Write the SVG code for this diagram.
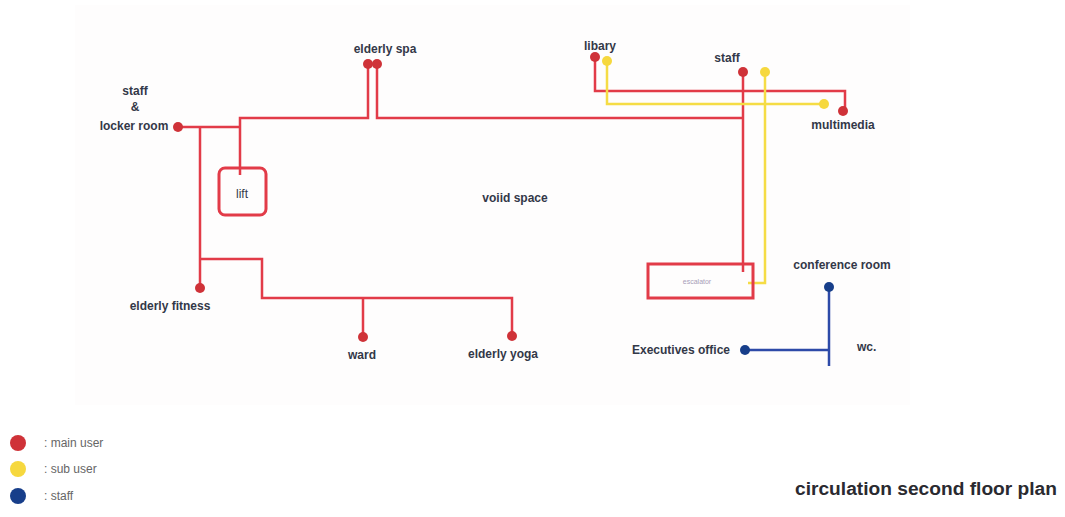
<svg xmlns="http://www.w3.org/2000/svg" width="1065" height="517" viewBox="0 0 1065 517">
<style>
text{font-family:"Liberation Sans",Arial,sans-serif;fill:#333848;}
.lbl{font-size:12px;font-weight:bold;}
.r{stroke:#e23b48;stroke-width:2.5;fill:none;}
.y{stroke:#f5dc45;stroke-width:2.5;fill:none;}
.b{stroke:#2d4aa8;stroke-width:2.5;fill:none;}
.rd{fill:#cf3238;}
.yd{fill:#f6d83e;}
.bd{fill:#173e8a;}
.leg{font-size:12px;fill:#666;}
</style>
<rect x="0" y="0" width="1065" height="517" fill="#ffffff"/>
<rect x="75" y="5" width="835" height="400" fill="#fefdfd"/>
<g id="connectors">
  <polyline class="r" points="178,127 240,127"/>
  <polyline class="r" points="200,127 200,288"/>
  <polyline class="r" points="240,175 240,118 368,118 368,64"/>
  <polyline class="r" points="377,64 377,118 743,118"/>
  <polyline class="r" points="200,259 262,259 262,298 512,298 512,336"/>
  <polyline class="r" points="363,298 363,337"/>
  <polyline class="r" points="595,57 595,91 845,91 845,110"/>
  <polyline class="r" points="743,72 743,272"/>
  <polyline class="y" points="607,61 607,104 824,104"/>
  <polyline class="y" points="765,72 765,283 748,283"/>
  <polyline class="b" points="829,287 829,366"/>
  <polyline class="b" points="745,350 829,350"/>
</g>
<g id="node-staff-locker">
  <circle class="rd" cx="178" cy="127" r="5"/>
  <text class="lbl" x="135" y="95" text-anchor="middle">staff</text>
  <text class="lbl" x="135" y="111" text-anchor="middle">&amp;</text>
  <text class="lbl" x="134" y="130" text-anchor="middle">locker room</text>
</g>
<g id="node-lift">
  <rect x="219" y="168" width="47" height="47" rx="6" fill="none" stroke="#e23b48" stroke-width="3"/>
  <text class="lbl" x="242" y="198" text-anchor="middle" style="font-weight:normal">lift</text>
</g>
<g id="node-elderly-spa">
  <circle class="rd" cx="368" cy="64" r="5"/>
  <circle class="rd" cx="377" cy="64" r="5"/>
  <text class="lbl" x="385" y="53" text-anchor="middle">elderly spa</text>
</g>
<g id="node-libary">
  <circle class="rd" cx="595" cy="57" r="5"/>
  <circle class="yd" cx="607" cy="61" r="5"/>
  <text class="lbl" x="600" y="50" text-anchor="middle">libary</text>
</g>
<g id="node-staff">
  <circle class="rd" cx="743" cy="72" r="5"/>
  <circle class="yd" cx="765" cy="72" r="5"/>
  <text class="lbl" x="727" y="62" text-anchor="middle">staff</text>
</g>
<g id="node-multimedia">
  <circle class="yd" cx="824" cy="104" r="5"/>
  <circle class="rd" cx="843" cy="111" r="5"/>
  <text class="lbl" x="843" y="129" text-anchor="middle">multimedia</text>
</g>
<g id="node-void">
  <text class="lbl" x="515" y="202" text-anchor="middle">voiid space</text>
</g>
<g id="node-escalator">
  <rect x="648" y="264" width="105" height="34" fill="none" stroke="#e23b48" stroke-width="3"/>
  <text x="697" y="284" text-anchor="middle" style="font-size:7px;fill:#a8a0b8">escalator</text>
</g>
<g id="node-elderly-fitness">
  <circle class="rd" cx="200" cy="288" r="5"/>
  <text class="lbl" x="170" y="310" text-anchor="middle">elderly fitness</text>
</g>
<g id="node-ward">
  <circle class="rd" cx="363" cy="337" r="5"/>
  <text class="lbl" x="362" y="359" text-anchor="middle">ward</text>
</g>
<g id="node-elderly-yoga">
  <circle class="rd" cx="512" cy="336" r="5"/>
  <text class="lbl" x="503" y="358" text-anchor="middle">elderly yoga</text>
</g>
<g id="node-conference">
  <circle class="bd" cx="829" cy="287" r="5"/>
  <text class="lbl" x="842" y="269" text-anchor="middle">conference room</text>
</g>
<g id="node-executives">
  <circle class="bd" cx="745" cy="350" r="5"/>
  <text class="lbl" x="730" y="354" text-anchor="end">Executives office</text>
</g>
<g id="node-wc">
  <text class="lbl" x="857" y="351">wc.</text>
</g>
<g id="legend">
  <circle class="rd" cx="18" cy="443" r="8"/>
  <text class="leg" x="44" y="447">: main user</text>
  <circle class="yd" cx="18" cy="469" r="8"/>
  <text class="leg" x="44" y="473">: sub user</text>
  <circle class="bd" cx="18" cy="496" r="8"/>
  <text class="leg" x="44" y="500">: staff</text>
</g>
<g id="title">
  <text x="795" y="495" textLength="262" lengthAdjust="spacingAndGlyphs" style="font-size:18px;font-weight:bold;fill:#2a2a30">circulation second floor plan</text>
</g>
</svg>
